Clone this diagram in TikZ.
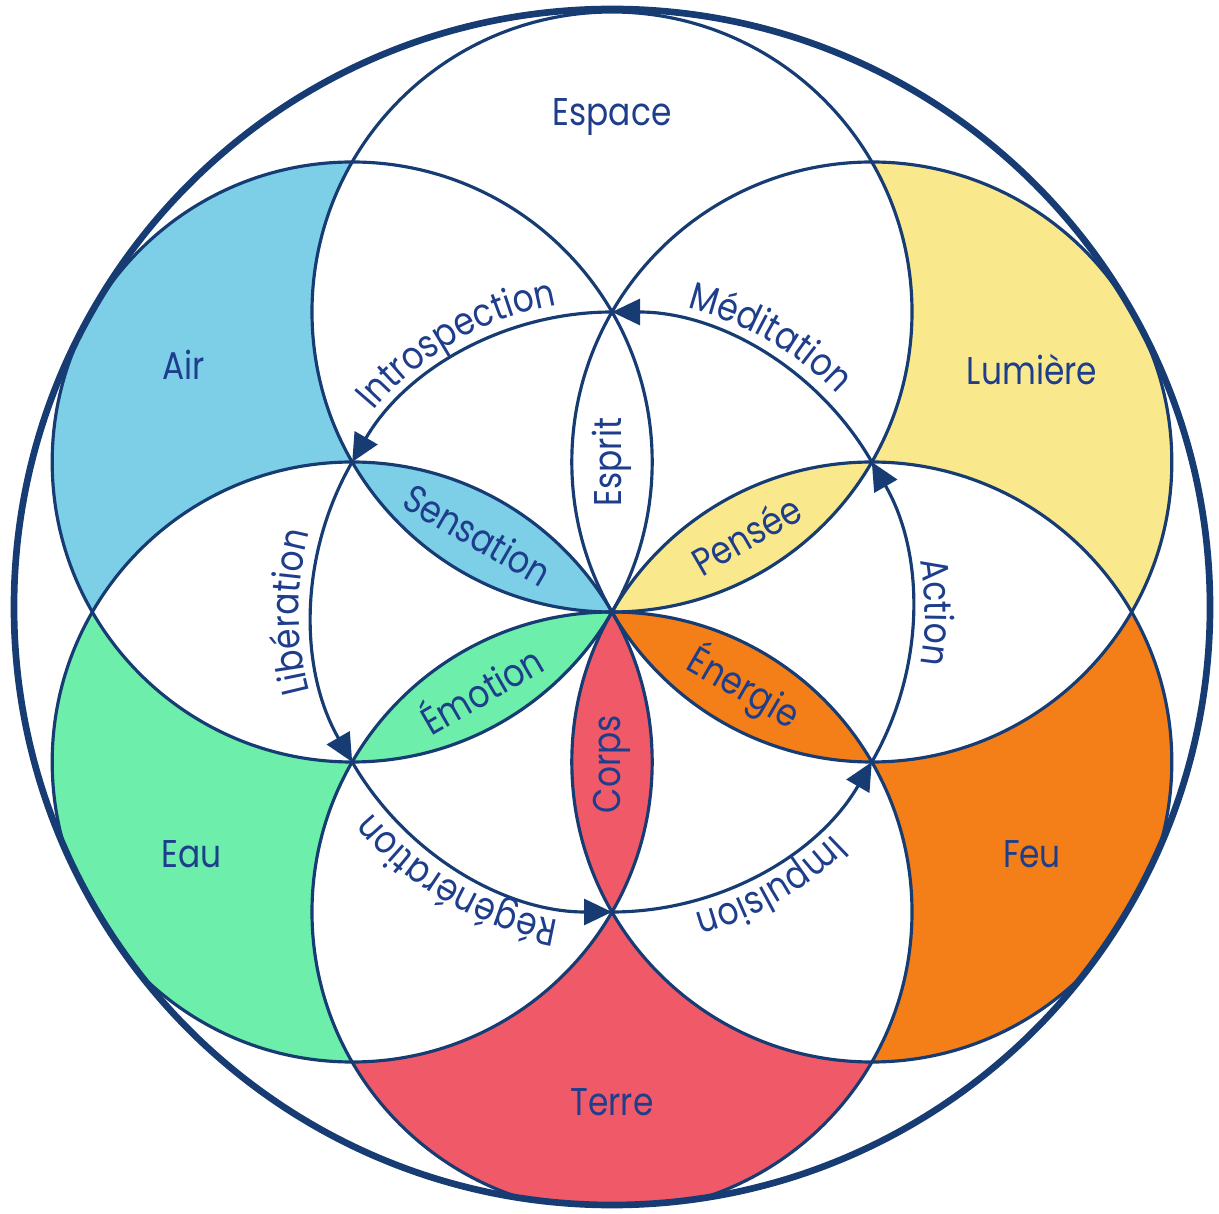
\documentclass[tikz,border=0pt]{standalone}
\usepackage{fontspec}
\setmainfont{Poppins}[FakeStretch=0.85]
\usepackage{xcolor}
\usetikzlibrary{arrows.meta,decorations.text,positioning}
\definecolor{navy}{RGB}{22,60,115}
\definecolor{ink}{RGB}{30,62,140}
\definecolor{air}{RGB}{125,207,231}
\definecolor{lumiere}{RGB}{249,233,140}
\definecolor{feu}{RGB}{244,127,24}
\definecolor{terre}{RGB}{240,90,104}
\definecolor{eau}{RGB}{109,238,170}
\tikzset{
  ring/.style={draw=navy, line width=0.9pt},
  flow/.style={draw=navy, line width=0.9pt, -{Triangle[length=2.8mm,width=2.6mm]}},
  word/.style={text=ink, font=\fontsize{11}{13}\selectfont},
  along/.style={decorate, decoration={text along path, text align=center,
      text color=ink, text={|\fontsize{11}{13}\selectfont|#1}}}
}

\begin{document}
\begin{tikzpicture}
\useasboundingbox (-6.12,-6.01) rectangle (6.07,6.12);
\begin{scope}
\clip (0,0.05) circle[radius=5.98];
% Outer regions
\fill[lumiere] (0:5.196) arc[start angle=-30,end angle=90,radius=3] arc[start angle=30,end angle=-30,radius=3] arc[start angle=90,end angle=30,radius=3] -- cycle; % lumiere
\fill[feu] (-60:5.196) arc[start angle=-90,end angle=30,radius=3] arc[start angle=-30,end angle=-90,radius=3] arc[start angle=30,end angle=-30,radius=3] -- cycle; % feu
\fill[terre] (-120:5.196) arc[start angle=-150,end angle=-30,radius=3] arc[start angle=-90,end angle=-150,radius=3] arc[start angle=-30,end angle=-90,radius=3] -- cycle; % terre
\fill[eau] (180:5.196) arc[start angle=-210,end angle=-90,radius=3] arc[start angle=-150,end angle=-210,radius=3] arc[start angle=-90,end angle=-150,radius=3] -- cycle; % eau
\fill[air] (120:5.196) arc[start angle=90,end angle=210,radius=3] arc[start angle=150,end angle=90,radius=3] arc[start angle=210,end angle=150,radius=3] -- cycle; % air
% Petals
\fill[air] (0,0) arc[start angle=270,end angle=210,radius=3] arc[start angle=90,end angle=30,radius=3] -- cycle; % sensation
\fill[lumiere] (0,0) arc[start angle=150,end angle=90,radius=3] arc[start angle=-30,end angle=-90,radius=3] -- cycle; % pensee
\fill[feu] (0,0) arc[start angle=90,end angle=30,radius=3] arc[start angle=-90,end angle=-150,radius=3] -- cycle; % energie
\fill[terre] (0,0) arc[start angle=30,end angle=-30,radius=3] arc[start angle=-150,end angle=-210,radius=3] -- cycle; % corps
\fill[eau] (0,0) arc[start angle=-30,end angle=-90,radius=3] arc[start angle=-210,end angle=-270,radius=3] -- cycle; % emotion
% Circles
\draw[ring] (90:3) circle[radius=3];
\draw[ring] (30:3) circle[radius=3];
\draw[ring] (-30:3) circle[radius=3];
\draw[ring] (-90:3) circle[radius=3];
\draw[ring] (-150:3) circle[radius=3];
\draw[ring] (150:3) circle[radius=3];
\end{scope}
\draw[navy, line width=1.9pt] (0,0.05) circle[radius=5.98]; % big circle
% Center points
\coordinate (p90) at (90:3);
\coordinate (p30) at (30:3);
\coordinate (m30) at (-30:3);
\coordinate (m90) at (-90:3);
\coordinate (m150) at (-150:3);
\coordinate (p150) at (150:3);
% Arrows
\draw[flow] (p30) arc[start angle=30,end angle=90,radius=3]; % meditation
\draw[flow] (p90) arc[start angle=90,end angle=150,radius=3]; % introspection
\draw[flow] (p150) arc[start angle=150,end angle=210,radius=3]; % liberation
\draw[flow] (m150) arc[start angle=210,end angle=270,radius=3]; % regeneration
\draw[flow] (m90) arc[start angle=270,end angle=330,radius=3]; % impulsion
\draw[flow] (m30) arc[start angle=330,end angle=390,radius=3]; % action
% Arrow labels
\path[along=Méditation] (90:3.13) arc[start angle=90,end angle=30,radius=3.13];
\path[along=Introspection] (150:3.12) arc[start angle=150,end angle=90,radius=3.12];
\path[along=Libération] (210:3.13) arc[start angle=210,end angle=150,radius=3.13];
\path[along=Régénération] (270:3.13) arc[start angle=270,end angle=210,radius=3.13];
\path[along=Impulsion] (330:3.13) arc[start angle=330,end angle=270,radius=3.13];
\path[along=Action] (30:3.13) arc[start angle=30,end angle=-30,radius=3.13];
% Region labels
\node[word] (espace) at (90:4.95) {Espace};
\node[word] (lum) at (30:4.85) {Lumière};
\node[word] (feu) at (-30:4.85) {Feu};
\node[word] (terre) at (-90:4.9) {Terre};
\node[word] (eau) at (-150:4.85) {Eau};
\node[word] (air) at (150:4.95) {Air};
% Petal labels
\node[word, rotate=90] (esprit) at (90:1.5) {Esprit};
\node[word, rotate=30] (pensee) at (30:1.55) {Pensée};
\node[word, rotate=-30] (energie) at (-30:1.52) {Énergie};
\node[word, rotate=90] (corps) at (-90:1.52) {Corps};
\node[word, rotate=30] (emotion) at (-150:1.52) {Émotion};
\node[word, rotate=-30] (sensation) at (150:1.55) {Sensation};
\end{tikzpicture}
\end{document}
